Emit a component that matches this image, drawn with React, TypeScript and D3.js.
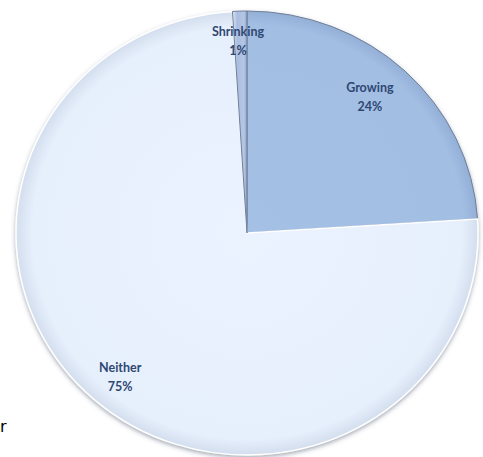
import React from "react";
import * as d3 from "d3";

const categories = ["Growing", "Neither", "Shrinking"];
const values = [24, 75, 1];
const labels = ["24%", "75%", "1%"];

const W = 483;
const H = 457;
const cx = 247;
const cy = 233;
const rx = 231;
const ry = 222;

export default function App() {
  const pie = d3.pie<number>().sort(null).value((d) => d);
  const arcs = pie(values);
  const arc = d3.arc<d3.PieArcDatum<number>>().innerRadius(0).outerRadius(1);
  const labelKx = [0.777, 0.83, 1.24];
  const labelKy = [0.837, 0.865, 0.865];
  const fillIds = ["url(#gG)", "url(#gN)", "url(#gS)"];
  return (
    <svg
      width={W}
      height={H}
      style={{ position: "absolute", left: 0, top: 0, background: "#fff" }}
    >
      <defs>
        <radialGradient id="gN" gradientUnits="userSpaceOnUse" cx={0} cy={0} r={1}>
          <stop offset="0" stopColor="#eaf3fe" />
          <stop offset="0.93" stopColor="#e6effc" />
          <stop offset="1" stopColor="#d3deee" />
        </radialGradient>
        <radialGradient id="gG" gradientUnits="userSpaceOnUse" cx={0} cy={0} r={1}>
          <stop offset="0" stopColor="#a5c0e5" />
          <stop offset="0.94" stopColor="#a2bee3" />
          <stop offset="1" stopColor="#93afd6" />
        </radialGradient>
        <linearGradient id="gS" gradientUnits="userSpaceOnUse" x1={-0.065} x2={0} y1={0} y2={0}>
          <stop offset="0" stopColor="#e3ebf7" />
          <stop offset="0.35" stopColor="#a9bde0" />
          <stop offset="0.8" stopColor="#b5c7e6" />
          <stop offset="1" stopColor="#8fa3c6" />
        </linearGradient>
        <filter id="sh" x="-10%" y="-10%" width="120%" height="120%">
          <feDropShadow dx="0" dy="2" stdDeviation="2" floodColor="#4a5870" floodOpacity="0.5" />
        </filter>
      </defs>
      <g transform={`translate(${cx},${cy})`} filter="url(#sh)">
        {arcs.map((a, i) => (
          <path
            key={categories[i]}
            d={arc(a) || ""}
            transform={`scale(${rx},${ry})`}
            fill={fillIds[i]}
            stroke={i === 1 ? "#ffffff" : "#6f7f98"}
            strokeWidth={i === 1 ? 1.5 : 1}
            vectorEffect="non-scaling-stroke"
          />
        ))}
      </g>
      {arcs.map((a, i) => {
        const mid = (a.startAngle + a.endAngle) / 2;
        const x = cx + Math.sin(mid) * rx * labelKx[i];
        const y = cy - Math.cos(mid) * ry * labelKy[i];
        return (
          <text
            key={"l" + i}
            textAnchor="middle"
            fontFamily="Lato, 'DejaVu Sans', sans-serif"
            fontWeight="bold"
            fontSize={12.5}
            fill="#2f4872"
          >
            <tspan x={x} y={y - 9.5} dy="0.35em">{categories[i]}</tspan>
            <tspan x={x} y={y + 9.5} dy="0.35em">{labels[i]}</tspan>
          </text>
        );
      })}
      <text x={0} y={432} fontFamily="'DejaVu Sans', sans-serif" fontSize={16} fill="#000">
        r
      </text>
    </svg>
  );
}
